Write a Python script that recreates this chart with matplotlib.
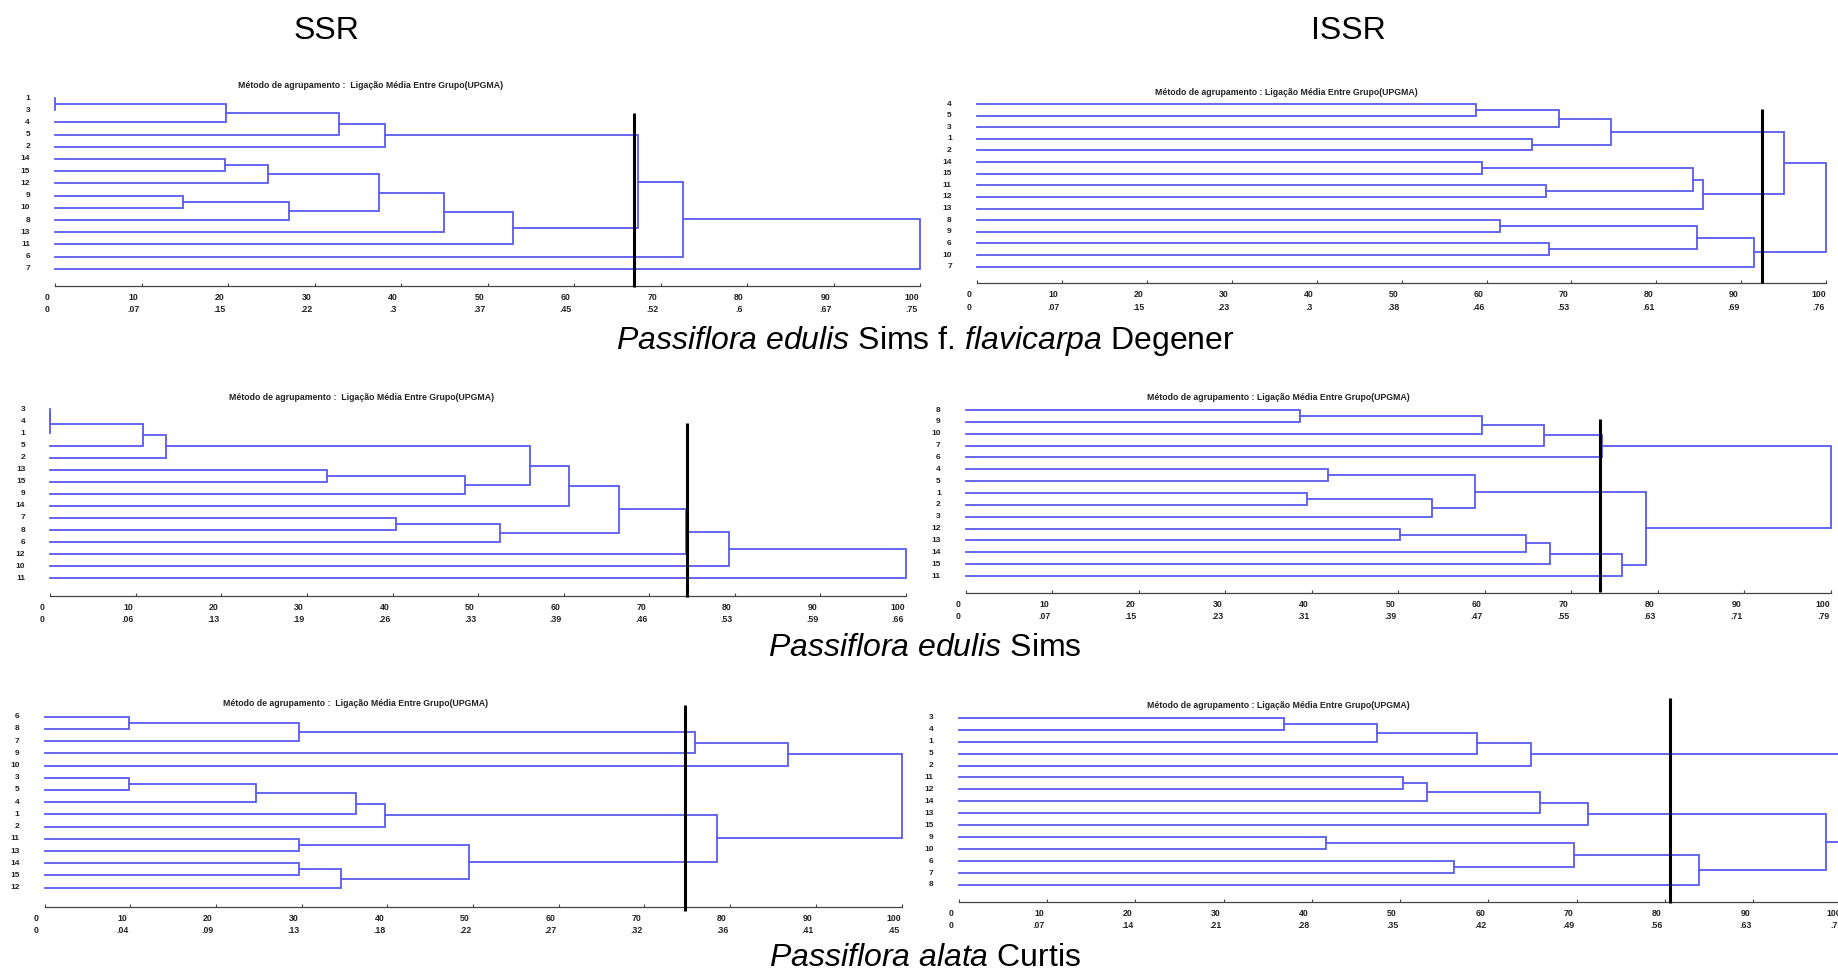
import matplotlib
matplotlib.use("Agg")
import matplotlib.pyplot as plt

W, H = 1838, 973

plt.rcParams['font.family'] = ['Liberation Sans', 'DejaVu Sans']
plt.rcParams['mathtext.fontset'] = 'custom'
plt.rcParams['mathtext.rm'] = 'Liberation Sans'
plt.rcParams['mathtext.it'] = 'Liberation Sans:italic'

LINE = '#5a5af0'
AXIS = '#444444'

# leaf order (top to bottom) and UPGMA merges per dendrogram
# merge = (left, right, height); str -> leaf label, int -> index of an earlier merge
ssr_flav_leaves = ["1", "3", "4", "5", "2", "14", "15", "12", "9", "10", "8", "13", "11", "6", "7"]
ssr_flav_merges = [("1", "3", 0.0), (0, "4", 19.8), (1, "5", 32.8), (2, "2", 38.1),
                   ("14", "15", 19.7), (4, "12", 24.6), ("9", "10", 14.8), (6, "8", 27.0),
                   (5, 7, 37.4), (8, "13", 45.0), (9, "11", 53.0), (3, 10, 67.4),
                   (11, "6", 72.6), (12, "7", 100.0)]
ssr_flav_dist = ["0", ".07", ".15", ".22", ".3", ".37", ".45", ".52", ".6", ".67", ".75"]
ssr_flav_cut = 66.9

issr_flav_leaves = ["4", "5", "3", "1", "2", "14", "15", "11", "12", "13", "8", "9", "6", "10", "7"]
issr_flav_merges = [("4", "5", 58.8), (0, "3", 68.5), ("1", "2", 65.3), (1, 2, 74.7),
                    ("14", "15", 59.5), ("11", "12", 67.0), (4, 5, 84.3), (6, "13", 85.5),
                    (3, 7, 95.0), ("8", "9", 61.6), ("6", "10", 67.3), (9, 10, 84.8),
                    (11, "7", 91.5), (8, 12, 100.0)]
issr_flav_dist = ["0", ".07", ".15", ".23", ".3", ".38", ".46", ".53", ".61", ".69", ".76"]
issr_flav_cut = 92.4

ssr_edul_leaves = ["3", "4", "1", "5", "2", "13", "15", "9", "14", "7", "8", "6", "12", "10", "11"]
ssr_edul_merges = [("3", "4", 0.0), (0, "1", 0.0), (1, "5", 10.8), (2, "2", 13.5),
                   ("13", "15", 32.3), (4, "9", 48.5), (3, 5, 56.1), (6, "14", 60.6),
                   ("7", "8", 40.4), (8, "6", 52.6), (7, 9, 66.5), (10, "12", 74.3),
                   (11, "10", 79.3), (12, "11", 100.0)]
ssr_edul_dist = ["0", ".06", ".13", ".19", ".26", ".33", ".39", ".46", ".53", ".59", ".66"]
ssr_edul_cut = 74.4

issr_edul_leaves = ["8", "9", "10", "7", "6", "4", "5", "1", "2", "3", "12", "13", "14", "15", "11"]
issr_edul_merges = [("8", "9", 38.6), (0, "10", 59.7), (1, "7", 66.8), (2, "6", 73.5),
                    ("4", "5", 41.9), ("1", "2", 39.4), (5, "3", 53.9), (4, 6, 58.9),
                    ("12", "13", 50.2), (8, "14", 64.8), (9, "15", 67.5), (10, "11", 75.8),
                    (7, 11, 78.6), (3, 12, 100.0)]
issr_edul_dist = ["0", ".07", ".15", ".23", ".31", ".39", ".47", ".55", ".63", ".71", ".79"]
issr_edul_cut = 73.3

ssr_alata_leaves = ["6", "8", "7", "9", "10", "3", "5", "4", "1", "2", "11", "13", "14", "15", "12"]
ssr_alata_merges = [("6", "8", 9.9), (0, "7", 29.7), (1, "9", 75.9), (2, "10", 86.7),
                    ("3", "5", 9.9), (4, "4", 24.7), (5, "1", 36.3), (6, "2", 39.7),
                    ("11", "13", 29.7), ("14", "15", 29.7), (9, "12", 34.6), (8, 10, 49.5),
                    (7, 11, 78.5), (3, 12, 100.0)]
ssr_alata_dist = ["0", ".04", ".09", ".13", ".18", ".22", ".27", ".32", ".36", ".41", ".45"]
ssr_alata_cut = 74.7

issr_alata_leaves = ["3", "4", "1", "5", "2", "11", "12", "14", "13", "15", "9", "10", "6", "7", "8"]
issr_alata_merges = [("3", "4", 36.9), (0, "1", 47.4), (1, "5", 58.7), (2, "2", 64.8),
                     ("11", "12", 50.3), (4, "14", 53.0), (5, "13", 65.8), (6, "15", 71.3),
                     ("9", "10", 41.6), ("6", "7", 56.1), (8, 9, 69.7), (10, "8", 83.9),
                     (7, 11, 98.2), (3, 12, 100.0)]
issr_alata_dist = ["0", ".07", ".14", ".21", ".28", ".35", ".42", ".49", ".56", ".63", ".7"]
issr_alata_cut = 80.6

scale_ticks = [0, 10, 20, 30, 40, 50, 60, 70, 80, 90, 100]

TITLE_L = "Método de agrupamento :  Ligação Média Entre Grupo(UPGMA)"
TITLE_R = "Método de agrupamento : Ligação Média Entre Grupo(UPGMA)"

# pixel layout: x of 0, x of 100, first leaf y, last leaf y, axis y,
# cut line top/bottom, title centre
panels = [
    dict(leaves=ssr_flav_leaves, merges=ssr_flav_merges, dist=ssr_flav_dist, cut=ssr_flav_cut,
         x0=55, x100=920, y0=98, yn=268.8, yax=286, ct=113.3, cb=287.3, tx=371, ty=85, title=TITLE_L),
    dict(leaves=issr_flav_leaves, merges=issr_flav_merges, dist=issr_flav_dist, cut=issr_flav_cut,
         x0=976.8, x100=1826.3, y0=104, yn=266.7, yax=283.3, ct=109.3, cb=282.7, tx=1286, ty=92.3, title=TITLE_R),
    dict(leaves=ssr_edul_leaves, merges=ssr_edul_merges, dist=ssr_edul_dist, cut=ssr_edul_cut,
         x0=50.4, x100=905.7, y0=409.3, yn=578.3, yax=596, ct=422.7, cb=596.7, tx=362, ty=397.3, title=TITLE_L),
    dict(leaves=issr_edul_leaves, merges=issr_edul_merges, dist=issr_edul_dist, cut=issr_edul_cut,
         x0=965.7, x100=1831, y0=410, yn=576, yax=592.7, ct=419, cb=591.7, tx=1278, ty=397.3, title=TITLE_R),
    dict(leaves=ssr_alata_leaves, merges=ssr_alata_merges, dist=ssr_alata_dist, cut=ssr_alata_cut,
         x0=44.5, x100=901.5, y0=716.7, yn=887.7, yax=906.7, ct=705, cb=910.7, tx=356, ty=703.3, title=TITLE_L),
    dict(leaves=issr_alata_leaves, merges=issr_alata_merges, dist=issr_alata_dist, cut=issr_alata_cut,
         x0=958.6, x100=1841.6, y0=717.7, yn=885, yax=901.7, ct=698, cb=903.3, tx=1278, ty=705, title=TITLE_R),
]


def draw_dendrogram(ax, leaves, merges):
    leaf_pos = {lab: (i, 0.0) for i, lab in enumerate(leaves)}
    nodes = []
    for a, b, h in merges:
        ya, ha = leaf_pos[a] if isinstance(a, str) else nodes[a]
        yb, hb = leaf_pos[b] if isinstance(b, str) else nodes[b]
        ax.plot([ha, h, h, hb], [ya, ya, yb, yb], color=LINE, lw=1.3,
                solid_joinstyle='miter', clip_on=False)
        nodes.append(((ya + yb) / 2, h))


fig = plt.figure(figsize=(W / 100, H / 100), dpi=100)

for p in panels:
    sp = (p['yn'] - p['y0']) / (len(p['leaves']) - 1)
    ppu = (p['x100'] - p['x0']) / 100.0
    ax = fig.add_axes([p['x0'] / W, 1 - p['yax'] / H,
                       (p['x100'] - p['x0']) / W, (p['yax'] - p['y0']) / H])
    ax.set_xlim(0, 100)
    ax.set_ylim((p['yax'] - p['y0']) / sp, 0)
    ax.patch.set_visible(False)
    for side in ['top', 'right', 'left']:
        ax.spines[side].set_visible(False)
    ax.spines['bottom'].set_color(AXIS)
    ax.spines['bottom'].set_linewidth(0.9)
    ax.set_yticks([])
    ax.set_xticks(scale_ticks)
    ax.tick_params(axis='x', direction='in', length=2.5, width=0.8, color=AXIS,
                   labelbottom=False)

    def py(ypx):
        return (ypx - p['y0']) / sp

    draw_dendrogram(ax, p['leaves'], p['merges'])

    for i, lab in enumerate(p['leaves']):
        ax.text(-25 / ppu, i, lab, ha='right', va='center', fontsize=6,
                fontweight='bold', color='#222222', clip_on=False)

    for t, d in zip(scale_ticks, p['dist']):
        ax.text(t - 8 / ppu, py(p['yax'] + 11.5), str(t), ha='center', va='center',
                fontsize=6.3, fontweight='bold', color='#222222', clip_on=False)
        ax.text(t - 8 / ppu, py(p['yax'] + 24), d, ha='center', va='center',
                fontsize=6.3, fontweight='bold', color='#222222', clip_on=False)

    ax.plot([p['cut'], p['cut']], [py(p['ct']), py(p['cb'])], color='black',
            lw=2.2, solid_capstyle='butt', clip_on=False, zorder=5)

    fig.text(p['tx'] / W, 1 - p['ty'] / H, p['title'], ha='center', va='center',
             fontsize=6.3, fontweight='bold', color='#222222')

# column headers
fig.text(326.7 / W, 1 - 39.3 / H, "SSR", ha='center', va='baseline', fontsize=23)
fig.text(1348 / W, 1 - 39.3 / H, "ISSR", ha='center', va='baseline', fontsize=23)

# species captions
captions = [r"$\mathit{Passiflora\ edulis}$ Sims f. $\mathit{flavicarpa}$ Degener",
            r"$\mathit{Passiflora\ edulis}$ Sims",
            r"$\mathit{Passiflora\ alata}$ Curtis"]
caption_y = [349.3, 656.5, 965.5]
for txt, y in zip(captions, caption_y):
    fig.text(925 / W, 1 - y / H, txt, ha='center', va='baseline', fontsize=23)

fig.savefig("out.png", dpi=100)
